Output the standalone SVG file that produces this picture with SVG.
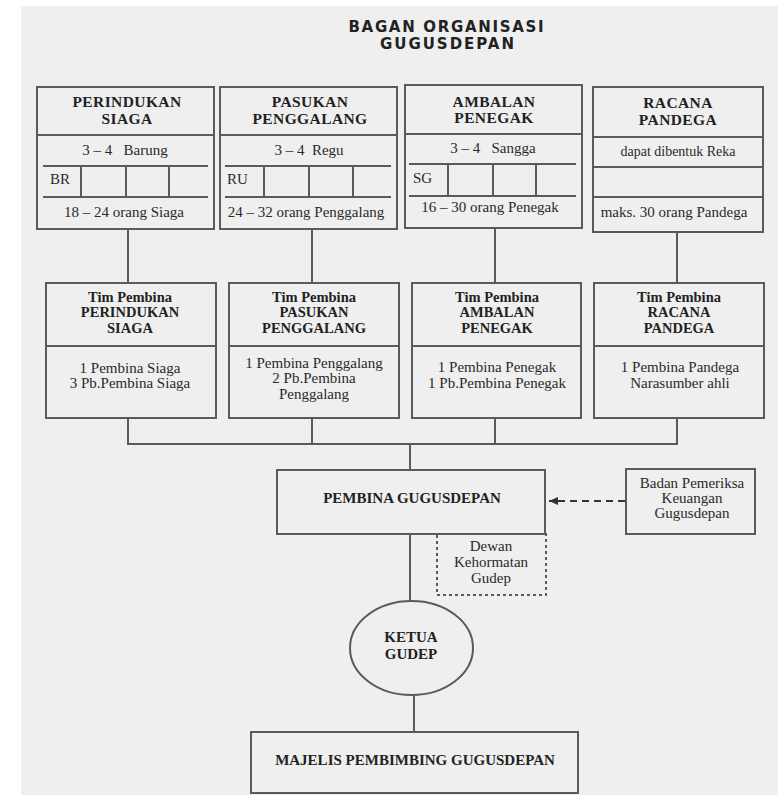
<svg xmlns="http://www.w3.org/2000/svg" width="778" height="795" viewBox="0 0 778 795">
<style>
.bx{fill:none;stroke:#5a5a5a;stroke-width:2}
.ln{fill:none;stroke:#5a5a5a;stroke-width:2}
.hd{font-family:"Liberation Serif",serif;font-weight:bold;font-size:15.5px;fill:#222;text-anchor:middle;letter-spacing:0.4px}
.hm{font-family:"Liberation Serif",serif;font-weight:bold;font-size:14.5px;fill:#222;text-anchor:middle}
.tx{font-family:"Liberation Serif",serif;font-size:15px;fill:#2a2a2a;text-anchor:middle}
.tl{font-family:"Liberation Serif",serif;font-size:15px;fill:#2a2a2a}
.bd{font-family:"Liberation Serif",serif;font-weight:bold;font-size:15px;fill:#222;text-anchor:middle}
.ti{font-family:"DejaVu Sans",sans-serif;font-weight:bold;font-size:15px;fill:#222;text-anchor:middle}
</style>
<defs>
<marker id="ah" markerWidth="10" markerHeight="10" refX="9" refY="5" orient="auto" markerUnits="userSpaceOnUse">
<path d="M0,1 L9,5 L0,9 Z" fill="#333"/>
</marker>
</defs>
<rect x="0" y="0" width="778" height="795" fill="#ffffff"/>
<rect x="21" y="6" width="757" height="789" fill="#efefef"/>

<g id="title">
<text class="ti" x="446" y="32" textLength="195" lengthAdjust="spacing">BAGAN ORGANISASI</text>
<text class="ti" x="447" y="49" textLength="134" lengthAdjust="spacing">GUGUSDEPAN</text>
</g>

<g id="connectors">
<line class="ln" x1="128" y1="229" x2="128" y2="283"/>
<line class="ln" x1="312" y1="229" x2="312" y2="283"/>
<line class="ln" x1="495" y1="228" x2="495" y2="283"/>
<line class="ln" x1="677" y1="232" x2="677" y2="283"/>
<polyline class="ln" points="128,418 128,444 677,444 677,418"/>
<line class="ln" x1="312" y1="418" x2="312" y2="444"/>
<line class="ln" x1="495" y1="418" x2="495" y2="444"/>
<line class="ln" x1="410" y1="444" x2="410" y2="470"/>
<line class="ln" x1="410" y1="534" x2="410" y2="601"/>
<line class="ln" x1="414" y1="695" x2="414" y2="732"/>
<line x1="625" y1="501" x2="549" y2="501" stroke="#333" stroke-width="2" stroke-dasharray="7,5" marker-end="url(#ah)"/>
</g>

<g id="perindukan-siaga">
<rect class="bx" x="37" y="87" width="177" height="142"/>
<line class="ln" x1="37" y1="135" x2="214" y2="135"/>
<line class="ln" x1="43" y1="166" x2="208" y2="166"/>
<line class="ln" x1="43" y1="197" x2="208" y2="197"/>
<line class="ln" x1="81" y1="166" x2="81" y2="197"/>
<line class="ln" x1="126" y1="166" x2="126" y2="197"/>
<line class="ln" x1="169" y1="166" x2="169" y2="197"/>
<text class="hd" x="127" y="107">PERINDUKAN</text>
<text class="hd" x="127" y="124">SIAGA</text>
<text class="tx" x="125" y="155" xml:space="preserve">3 – 4   Barung</text>
<text class="tl" x="50" y="184">BR</text>
<text class="tx" x="124" y="217">18 – 24 orang Siaga</text>
</g>

<g id="pasukan-penggalang">
<rect class="bx" x="220" y="87" width="177" height="142"/>
<line class="ln" x1="220" y1="135" x2="397" y2="135"/>
<line class="ln" x1="225" y1="166" x2="391" y2="166"/>
<line class="ln" x1="225" y1="197" x2="391" y2="197"/>
<line class="ln" x1="264" y1="166" x2="264" y2="197"/>
<line class="ln" x1="309" y1="166" x2="309" y2="197"/>
<line class="ln" x1="353" y1="166" x2="353" y2="197"/>
<text class="hd" x="310" y="107">PASUKAN</text>
<text class="hd" x="310" y="124">PENGGALANG</text>
<text class="tx" x="309" y="155" xml:space="preserve">3 – 4  Regu</text>
<text class="tl" x="227" y="184">RU</text>
<text class="tx" x="306" y="217">24 – 32 orang Penggalang</text>
</g>

<g id="ambalan-penegak">
<rect class="bx" x="405" y="85" width="177" height="143"/>
<line class="ln" x1="405" y1="134" x2="582" y2="134"/>
<line class="ln" x1="409" y1="164" x2="576" y2="164"/>
<line class="ln" x1="409" y1="196" x2="576" y2="196"/>
<line class="ln" x1="448" y1="164" x2="448" y2="196"/>
<line class="ln" x1="493" y1="164" x2="493" y2="196"/>
<line class="ln" x1="536" y1="164" x2="536" y2="196"/>
<text class="hd" x="494" y="107">AMBALAN</text>
<text class="hd" x="494" y="123">PENEGAK</text>
<text class="tx" x="493" y="153" xml:space="preserve">3 – 4   Sangga</text>
<text class="tl" x="413" y="183">SG</text>
<text class="tx" x="490" y="212">16 – 30 orang Penegak</text>
</g>

<g id="racana-pandega">
<rect class="bx" x="593" y="87" width="170" height="145"/>
<line class="ln" x1="593" y1="137" x2="763" y2="137"/>
<line class="ln" x1="593" y1="167" x2="763" y2="167"/>
<line class="ln" x1="593" y1="197" x2="763" y2="197"/>
<text class="hd" x="678" y="108">RACANA</text>
<text class="hd" x="678" y="125">PANDEGA</text>
<text class="tx" x="678" y="156" style="font-size:14px">dapat dibentuk Reka</text>
<text class="tx" x="674" y="217">maks. 30 orang Pandega</text>
</g>

<g id="tim-siaga">
<rect class="bx" x="46" y="283" width="170" height="135"/>
<line class="ln" x1="46" y1="346" x2="216" y2="346"/>
<text class="hm" x="130" y="302">Tim Pembina</text>
<text class="hm" x="130" y="317">PERINDUKAN</text>
<text class="hm" x="130" y="333">SIAGA</text>
<text class="tx" x="130" y="373">1 Pembina Siaga</text>
<text class="tx" x="130" y="388">3 Pb.Pembina Siaga</text>
</g>

<g id="tim-penggalang">
<rect class="bx" x="229" y="283" width="170" height="135"/>
<line class="ln" x1="229" y1="346" x2="399" y2="346"/>
<text class="hm" x="314" y="302">Tim Pembina</text>
<text class="hm" x="314" y="317">PASUKAN</text>
<text class="hm" x="314" y="333">PENGGALANG</text>
<text class="tx" x="314" y="368">1 Pembina Penggalang</text>
<text class="tx" x="314" y="383">2 Pb.Pembina</text>
<text class="tx" x="314" y="399">Penggalang</text>
</g>

<g id="tim-penegak">
<rect class="bx" x="412" y="283" width="169" height="135"/>
<line class="ln" x1="412" y1="346" x2="581" y2="346"/>
<text class="hm" x="497" y="302">Tim Pembina</text>
<text class="hm" x="497" y="317">AMBALAN</text>
<text class="hm" x="497" y="333">PENEGAK</text>
<text class="tx" x="497" y="372">1 Pembina Penegak</text>
<text class="tx" x="497" y="388">1 Pb.Pembina Penegak</text>
</g>

<g id="tim-pandega">
<rect class="bx" x="594" y="283" width="170" height="135"/>
<line class="ln" x1="594" y1="346" x2="764" y2="346"/>
<text class="hm" x="679" y="302">Tim Pembina</text>
<text class="hm" x="679" y="317">RACANA</text>
<text class="hm" x="679" y="333">PANDEGA</text>
<text class="tx" x="680" y="372">1 Pembina Pandega</text>
<text class="tx" x="680" y="388">Narasumber ahli</text>
</g>

<g id="pembina-gugusdepan">
<rect class="bx" x="277" y="470" width="268" height="64"/>
<text class="bd" x="412" y="503">PEMBINA GUGUSDEPAN</text>
</g>

<g id="badan-pemeriksa">
<rect class="bx" x="626" y="469" width="129" height="65"/>
<text class="tx" x="692" y="488">Badan Pemeriksa</text>
<text class="tx" x="692" y="503">Keuangan</text>
<text class="tx" x="692" y="518">Gugusdepan</text>
</g>

<g id="dewan-kehormatan">
<rect x="437" y="534" width="109" height="61" fill="none" stroke="#5a5a5a" stroke-width="2" stroke-dasharray="3,3"/>
<text class="tx" x="491" y="551">Dewan</text>
<text class="tx" x="491" y="567">Kehormatan</text>
<text class="tx" x="491" y="583">Gudep</text>
</g>

<g id="ketua-gudep">
<ellipse class="bx" cx="411.5" cy="648" rx="61.5" ry="47"/>
<text class="bd" x="411" y="642">KETUA</text>
<text class="bd" x="411" y="659">GUDEP</text>
</g>

<g id="majelis">
<rect class="bx" x="251" y="732" width="327" height="61"/>
<text class="bd" x="415" y="765">MAJELIS PEMBIMBING GUGUSDEPAN</text>
</g>
</svg>
